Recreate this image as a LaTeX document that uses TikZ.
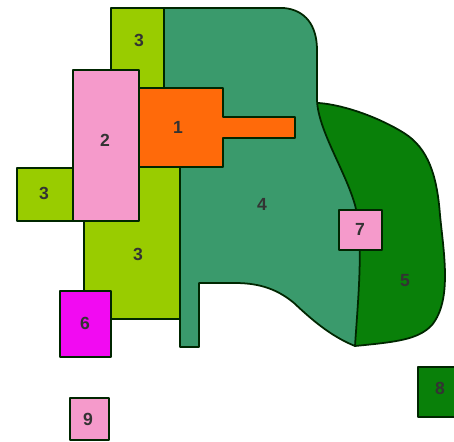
\documentclass[tikz,border=0pt]{standalone}
\usepackage{fontspec}
\setmainfont{Liberation Sans}
\usepackage{xcolor}
\usetikzlibrary{positioning}
\definecolor{LG}{HTML}{99CC00}
\definecolor{TL}{HTML}{3A9A6C}
\definecolor{DG}{HTML}{098009}
\definecolor{OR}{HTML}{FF6A0A}
\definecolor{PK}{HTML}{F59ACB}
\definecolor{MG}{HTML}{F20AF2}
\tikzset{
  zone/.style={draw=black!85!green, line width=1pt, line join=round},
  lbl/.style={font=\fontsize{10}{10}\selectfont\bfseries, text=black!80}
}

\begin{document}
\begin{tikzpicture}[x=0.02cm, y=-0.02cm]

        \useasboundingbox (0,0) rectangle (454,441);

        %% ── big regions first (5 lies under 4) ──

        %% region 5
        \filldraw[zone, fill=DG]
          (300,103) -- (319,103)
          .. controls (345,105) and (380,118) .. (404,133)
          .. controls (428,148) and (437,175) .. (440,215)
          .. controls (444,255) and (452,300) .. (432,325)
          .. controls (418,340) and (395,342) .. (355,346)
          .. controls (348,300) and (330,200) .. cycle;

        %% region 4
        \filldraw[zone, fill=TL]
          (164,8) -- (284,8)
          .. controls (305,10) and (317,25) .. (317,50)
          -- (317,100)
          .. controls (318,130) and (345,170) .. (355,205)
          .. controls (364,240) and (358,300) .. (355,346)
          .. controls (330,336) and (310,318) .. (294,303)
          .. controls (275,287) and (255,283) .. (235,283)
          -- (199,283) -- (199,347) -- (180,347)
          -- (180,167) -- (164,167) -- cycle;

        %% ── light green pieces (3) ──
        \filldraw[zone, fill=LG] (111,8) rectangle (164,88);
        \filldraw[zone, fill=LG] (84,160) rectangle (180,319);
        \filldraw[zone, fill=LG] (17,168) rectangle (73,221);

        %% region 1 with its stem
        \filldraw[zone, fill=OR]
          (139,88) -- (223,88) -- (223,117) -- (295,117)
          -- (295,138) -- (223,138) -- (223,167) -- (139,167) -- cycle;

        %% ── small boxes on top ──
        \filldraw[zone, fill=PK] (73,70) rectangle (139,221);
        \filldraw[zone, fill=MG] (60,291) rectangle (111,357);
        \filldraw[zone, fill=PK] (339,210) rectangle (382,250);
        \filldraw[zone, fill=DG] (418,367) rectangle (458,417);
        \filldraw[zone, fill=PK] (70,398) rectangle (109,440);

        %% labels
        \foreach \nm/\px/\py/\t in {
            top3/139/40/3, two/105/140/2, one/178/127/1,
            left3/44/193/3, four/262/204/4, mid3/138/254/3,
            seven/360/229/7, five/405/281/5, six/85/323/6,
            nine/88/419/9, eight/440/388/8}{
          \node[lbl] (\nm) at (\px,\py) {\t};
        }

      \end{tikzpicture}
\end{document}
